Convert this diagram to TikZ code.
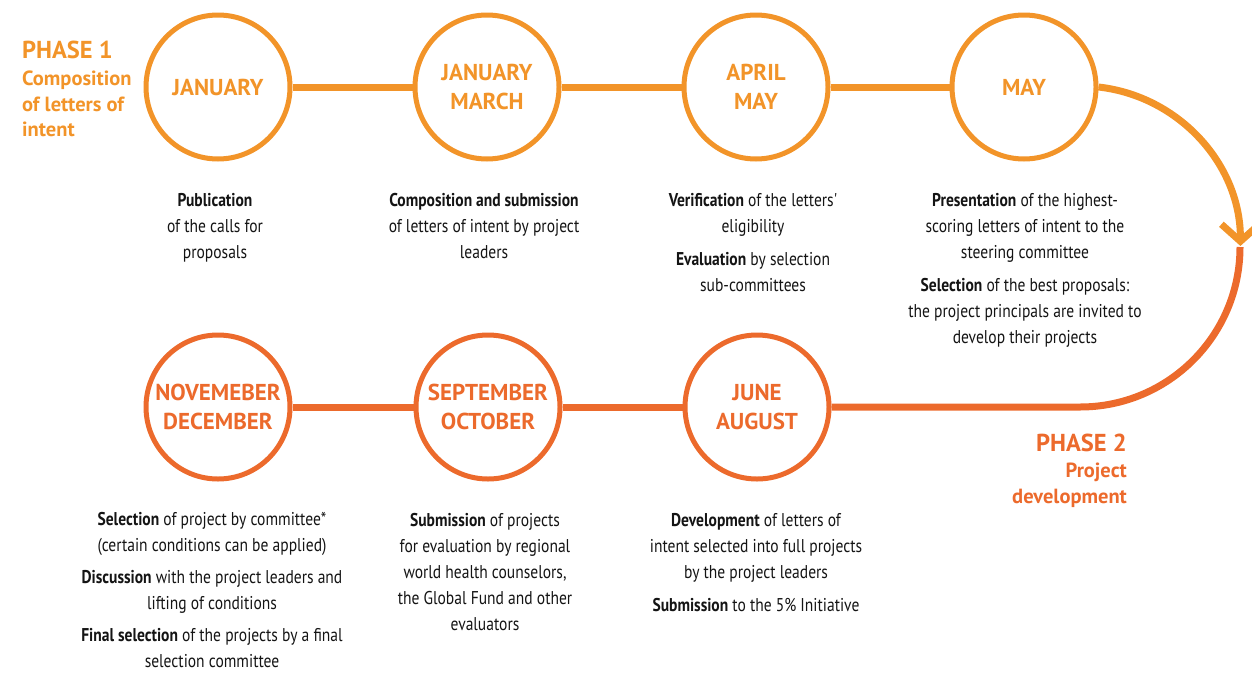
\documentclass[tikz,border=0pt]{standalone}
\usepackage{fontspec}
\setmainfont{PT Sans}
\newfontfamily\narrowfont{PT Sans}[FakeStretch=0.84]
\usetikzlibrary{arrows.meta}
\definecolor{phaseone}{RGB}{242,148,41}
\definecolor{phasetwo}{RGB}{236,106,44}
\definecolor{bodytext}{RGB}{20,20,20}

\begin{document}
\begin{tikzpicture}[x=1pt, y=-1pt,
  month/.style={circle, draw=#1, text=#1, line width=5pt, fill=white,
    minimum size=144pt, inner sep=0pt, align=center,
    font=\fontsize{23}{29}\selectfont\bfseries},
  link/.style={draw=#1, line width=7pt},
  desc/.style={anchor=north, align=center, inner sep=0pt, text=bodytext,
    font=\fontsize{18.5}{26}\selectfont\narrowfont},
  phasehead/.style={inner sep=0pt, text=#1, font=\fontsize{24.5}{28}\selectfont\bfseries},
  phasetext/.style={inner sep=0pt, text=#1, font=\fontsize{20.5}{25.5}\selectfont\bfseries}]
  \useasboundingbox (0,0) rectangle (1252,672);

  %% Phase 1 row
  \node[month=phaseone] (jan)    at (218,87)  {JANUARY};
  \node[month=phaseone] (janmar) at (487,87)  {JANUARY\\MARCH};
  \node[month=phaseone] (aprmay) at (756,87)  {APRIL\\MAY};
  \node[month=phaseone] (may)    at (1024,87) {MAY};
  \draw[link=phaseone] (jan.east) -- (janmar.west);
  \draw[link=phaseone] (janmar.east) -- (aprmay.west);
  \draw[link=phaseone] (aprmay.east) -- (may.west);

  %% Phase 2 row
  \node[month=phasetwo] (novdec) at (218,407) {NOVEMEBER\\DECEMBER};
  \node[month=phasetwo] (sepoct) at (488,407) {SEPTEMBER\\OCTOBER};
  \node[month=phasetwo] (junaug) at (757,407) {JUNE\\AUGUST};
  \draw[link=phasetwo] (junaug.west) -- (sepoct.east);
  \draw[link=phasetwo] (sepoct.west) -- (novdec.east);

  %% U-turn from May down to June, arrow at the change of phase
  \coordinate (bend) at (1080,247);
  \draw[link=phasetwo] (junaug.east) -- (junaug.east -| bend)
    arc[start angle=-90, end angle=0, radius=160pt];
  \draw[link=phaseone, -{Straight Barb[length=17pt, width=38pt]}] (may.east)
    arc[start angle=83.5, end angle=0, radius=160pt];

  %% Phase labels
  \node[phasehead=phaseone, anchor=base west] (p1head) at (22,58) {PHASE 1};
  \node[phasetext=phaseone, anchor=north west, align=left] (p1text) at (22,71)
    {Composition\\of letters of\\intent};
  \node[phasehead=phasetwo, anchor=base east] (p2head) at (1127,451) {PHASE 2};
  \node[phasetext=phasetwo, anchor=north east, align=right] (p2text) at (1127,463)
    {Project\\development};

  %% Steps of phase 1
  \node[desc] (d-jan) at (215,193)
    {\textbf{Publication}\\of the calls for\\proposals};
  \node[desc] (d-janmar) at (484,193)
    {\textbf{Composition and submission}\\of letters of intent by project\\leaders};
  \node[desc] (d-aprmay) at (753,193)
    {\textbf{Verification} of the letters'\\eligibility\\[7pt]
     \textbf{Evaluation} by selection\\sub-committees};
  \node[desc] (d-may) at (1025,193)
    {\textbf{Presentation} of the highest-\\scoring letters of intent to the\\steering committee\\[7pt]
     \textbf{Selection} of the best proposals:\\the project principals are invited to\\develop their projects};

  %% Steps of phase 2
  \node[desc] (d-novdec) at (212,512)
    {\textbf{Selection} of project by committee*\\(certain conditions can be applied)\\[6pt]
     \textbf{Discussion} with the project leaders and\\lifting of conditions\\[6pt]
     \textbf{Final selection} of the projects by a final\\selection committee};
  \node[desc] (d-sepoct) at (485,513)
    {\textbf{Submission} of projects\\for evaluation by regional\\world health counselors,\\the Global Fund and other\\evaluators};
  \node[desc] (d-junaug) at (756,513)
    {\textbf{Development} of letters of\\intent selected into full projects\\by the project leaders\\[7pt]
     \textbf{Submission} to the 5\% Initiative};
\end{tikzpicture}
\end{document}
